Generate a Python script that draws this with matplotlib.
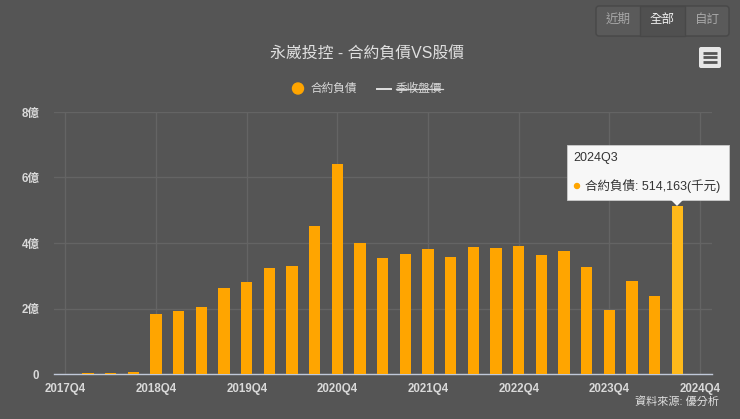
import matplotlib
matplotlib.use("Agg")
from matplotlib import pyplot as plt
from matplotlib.patches import Rectangle, FancyBboxPatch, Polygon, Circle

plt.rcParams['font.family'] = ['Liberation Sans', 'Noto Sans CJK TC', 'DejaVu Sans']

W = 740
H = 419
BG = "#555555"
ORANGE = "#ffa500"
HOVER = "#ffb91a"
TEXT = "#d9d9d9"

quarters = ["2017Q4", "2018Q1", "2018Q2", "2018Q3", "2018Q4", "2019Q1", "2019Q2", "2019Q3",
            "2019Q4", "2020Q1", "2020Q2", "2020Q3", "2020Q4", "2021Q1", "2021Q2", "2021Q3",
            "2021Q4", "2022Q1", "2022Q2", "2022Q3", "2022Q4", "2023Q1", "2023Q2", "2023Q3",
            "2023Q4", "2024Q1", "2024Q2", "2024Q3", "2024Q4"]
liabilities = [0.0, 0.02, 0.03, 0.06, 1.82, 1.93, 2.05, 2.62,
               2.80, 3.25, 3.30, 4.52, 6.40, 4.00, 3.53, 3.67,
               3.83, 3.58, 3.87, 3.84, 3.90, 3.62, 3.76, 3.26,
               1.96, 2.85, 2.38, 5.14]
yticks = [0, 2, 4, 6, 8]
ylabels = ["0", "2億", "4億", "6億", "8億"]

fig = plt.figure(figsize=(W / 100, H / 100), dpi=100, facecolor=BG)

# plot area, in pixels of the picture
left, right, top, bottom = 54, 711.5, 112, 374
ax = fig.add_axes([left / W, 1 - bottom / H, (right - left) / W, (bottom - top) / H], facecolor=BG)

colors = [ORANGE] * len(liabilities)
colors[-1] = HOVER
ax.bar(range(len(liabilities)), liabilities, width=0.5, color=colors, zorder=3)

ax.set_xlim(-0.5, len(quarters) - 0.5)
ax.set_ylim(0, 8)
ax.set_yticks(yticks)
ax.set_yticklabels(ylabels, fontsize=8.3, color=TEXT, fontweight="bold")
ax.set_xticks(range(0, len(quarters), 4))
ax.set_xticklabels(quarters[::4], fontsize=8.3, color=TEXT, fontweight="bold")
ax.tick_params(length=0)
ax.tick_params(axis="x", pad=6.5)
ax.tick_params(axis="y", pad=10.5)
ax.grid(True, color="#646464", lw=1, zorder=0)
ax.set_axisbelow(True)
for s in ["top", "left", "right"]:
    ax.spines[s].set_visible(False)
ax.spines["bottom"].set_color("#c0c8d8")
ax.spines["bottom"].set_linewidth(1)

# overlay in picture pixels for title, legend, buttons and tooltip
ov = fig.add_axes([0, 0, 1, 1], facecolor="none")
ov.set_xlim(0, W)
ov.set_ylim(H, 0)
ov.axis("off")

ov.text(367, 53, "永崴投控 - 合約負債VS股價", fontsize=11.4, color="#e0e0e0", ha="center", va="center")

# legend, second series is switched off so it is struck through
ov.add_patch(Circle((298, 88.5), 5.5, color=ORANGE))
ov.text(311, 89, "合約負債", fontsize=8.4, color=TEXT, va="center")
ov.plot([377, 391], [89, 89], color="#e0e0e0", lw=1.4)
ov.text(396, 89, "季收盤價", fontsize=8.4, color=TEXT, va="center")
ov.plot([396, 443], [89, 89], color=TEXT, lw=0.9)

# range buttons
ov.add_patch(FancyBboxPatch((596, 6), 133, 30, boxstyle="round,pad=0,rounding_size=3",
                            fc="#5a5a5a", ec="#484848", lw=1))
ov.add_patch(Rectangle((640, 6), 45, 30, fc="#505050", ec="#484848", lw=1))
ov.text(618, 19.5, "近期", fontsize=9, color="#a8a8a8", ha="center", va="center")
ov.text(662, 19.5, "全部", fontsize=9, color="#f0f0f0", ha="center", va="center")
ov.text(707, 19.5, "自訂", fontsize=9, color="#a8a8a8", ha="center", va="center")

# export menu
ov.add_patch(FancyBboxPatch((699, 47), 22, 21, boxstyle="round,pad=0,rounding_size=2",
                            fc="#e6e6e6", ec="none"))
for y in [53, 57.5, 62]:
    ov.plot([703, 717], [y, y], color="#555555", lw=2, solid_capstyle="butt")

# tooltip for the last bar
ov.add_patch(Rectangle((567, 145), 161.5, 55, fc="#f7f7f7", ec="#cccccc", lw=0.6, zorder=5))
ov.add_patch(Polygon([[671, 200], [683, 200], [677, 206]], fc="#f7f7f7", ec="none", zorder=5))
ov.text(573, 158, "2024Q3", fontsize=9, color="#333333", va="center", zorder=6)
ov.add_patch(Circle((577, 186), 2.5, color=ORANGE, zorder=6))
ov.text(585, 186, "合約負債: 514,163(千元)", fontsize=9, color="#333333", va="center", zorder=6)

ov.text(719, 401.5, "資料來源: 優分析", fontsize=8, color="#e0e0e0", ha="right", va="center")

fig.savefig("out.png", dpi=100, facecolor=BG)
